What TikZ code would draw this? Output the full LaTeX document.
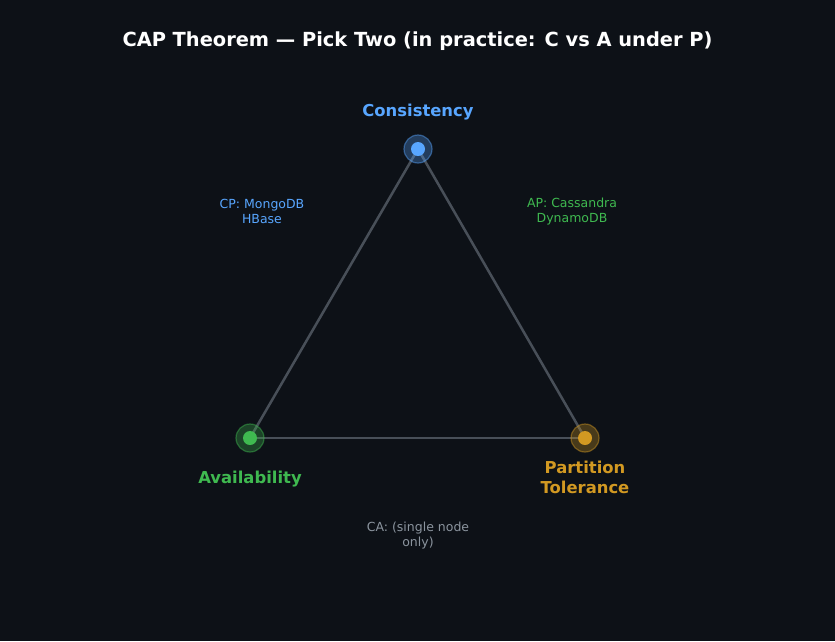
\documentclass[tikz,border=0pt]{standalone}
\usepackage{fontspec}
\setmainfont{DejaVu Sans}
\definecolor{bg}{HTML}{0D1117}
\definecolor{cblue}{HTML}{58A6FF}
\definecolor{cgreen}{HTML}{3FB950}
\definecolor{corange}{HTML}{D29922}
\definecolor{edgegray}{HTML}{484F58}
\definecolor{txtgray}{HTML}{8B949E}
\begin{document}
\begin{tikzpicture}[x=1pt,y=-1pt,
  halo/.style={circle,minimum size=28pt,inner sep=0pt,fill=#1,fill opacity=0.3,draw=#1,draw opacity=0.45,line width=1.2pt},
  core/.style={circle,minimum size=14pt,inner sep=0pt,fill=#1},
  vlabel/.style={text=#1,font=\fontsize{16.4}{20}\selectfont\bfseries,align=center,inner sep=0pt},
  slabel/.style={text=#1,font=\fontsize{12.5}{15}\selectfont,align=center,inner sep=0pt},
  edge/.style={draw=edgegray,line width=2.5pt}]
\fill[bg] (0,0) rectangle (835,641);
\useasboundingbox (0,0) rectangle (835,641);
\node[text=white,font=\fontsize{19.4}{23}\selectfont\bfseries,inner sep=0pt] (title) at (417.5,41.5) {CAP Theorem — Pick Two (in practice: C vs A under P)};
% edges
\coordinate (C) at (418,149);
\coordinate (A) at (250,438);
\coordinate (P) at (585,438);
\draw[edge] (C) -- (A);
\draw[edge] (C) -- (P);
\draw[edge] (A) -- (P);
% vertices
\node[halo=cblue] (Ch) at (C) {};
\node[core=cblue] (Cc) at (C) {};
\node[halo=cgreen] (Ah) at (A) {};
\node[core=cgreen] (Ac) at (A) {};
\node[halo=corange] (Ph) at (P) {};
\node[core=corange] (Pc) at (P) {};
% labels
\node[vlabel=cblue] (Cl) at (418,112) {Consistency};
\node[vlabel=cgreen] (Al) at (250,479) {Availability};
\node[vlabel=corange] (Pl) at (585,477.5) {Partition\\Tolerance};
\node[slabel=cblue] (cp) at (262,211.5) {CP: MongoDB\\HBase};
\node[slabel=cgreen] (ap) at (572,211.5) {AP: Cassandra\\DynamoDB};
\node[slabel=txtgray] (ca) at (418,535.5) {CA: (single node\\only)};
\end{tikzpicture}
\end{document}
